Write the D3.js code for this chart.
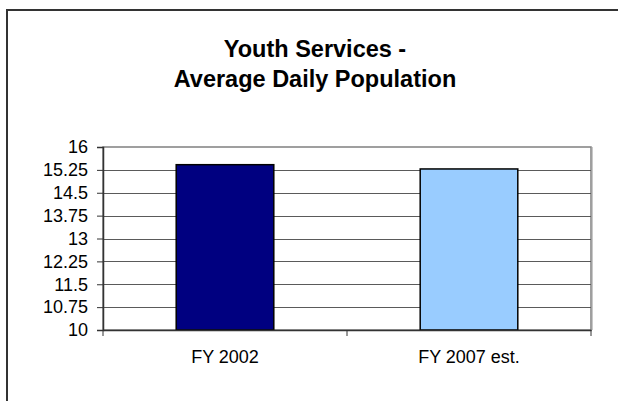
<!DOCTYPE html>
<html>
<head>
<meta charset="utf-8">
<script src="https://cdn.jsdelivr.net/npm/d3@7"></script>
<style>
  html, body { margin: 0; padding: 0; background: #fff; overflow: hidden; }
  svg { display: block; font-family: "Liberation Sans", Arial, sans-serif; }
</style>
</head>
<body>
<svg id="chart" width="618" height="401"></svg>
<script>
// Chart data
const titleLines = ["Youth Services -", "Average Daily Population"];
const categories = ["FY 2002", "FY 2007 est."];
const values = [15.42, 15.28];
const barColors = ["#000080", "#99CCFF"];
const yTickValues = [10, 10.75, 11.5, 12.25, 13, 13.75, 14.5, 15.25, 16];
const yTickLabels = ["10", "10.75", "11.5", "12.25", "13", "13.75", "14.5", "15.25", "16"];

const svg = d3.select("#chart");

// Outer chart frame: only the left and top edges fall inside the view
svg.append("path")
  .attr("d", "M7,401 V10 H618")
  .attr("fill", "none")
  .attr("stroke", "#333")
  .attr("stroke-width", 2);

// Title
svg.append("text")
  .attr("x", 315).attr("text-anchor", "middle")
  .attr("font-size", 23.5).attr("font-weight", "bold")
  .attr("fill", "#000")
  .selectAll("tspan")
  .data(titleLines)
  .join("tspan")
  .attr("x", 315)
  .attr("y", (d, i) => 57 + i * 30)
  .text(d => d);

// Plot area
const plot = { left: 103, right: 591, top: 147, bottom: 330 };

const x = d3.scaleBand()
  .domain(categories)
  .range([plot.left, plot.right])
  .paddingInner(0.6)
  .paddingOuter(0.3);

const y = d3.scaleLinear()
  .domain([10, 16])
  .range([plot.bottom, plot.top]);

// Light shadow on the right of the plot area
svg.append("line")
  .attr("x1", plot.right + 1.5).attr("x2", plot.right + 1.5)
  .attr("y1", plot.top).attr("y2", plot.bottom)
  .attr("stroke", "#c8c8c8").attr("stroke-width", 1);

// Plot area border
svg.append("rect")
  .attr("x", plot.left).attr("y", plot.top)
  .attr("width", plot.right - plot.left)
  .attr("height", plot.bottom - plot.top)
  .attr("fill", "none")
  .attr("stroke", "#808080")
  .attr("stroke-width", 1.5);

// Horizontal gridlines
const grid = svg.append("g")
  .attr("transform", `translate(${plot.left},0)`)
  .call(d3.axisLeft(y)
    .tickValues(yTickValues.slice(1, -1))
    .tickSize(-(plot.right - plot.left))
    .tickFormat(""));
grid.select(".domain").remove();
grid.selectAll(".tick line")
  .attr("stroke", "#5a5a5a")
  .attr("stroke-width", 1)
  .attr("shape-rendering", "crispEdges");

// Bars
svg.append("g")
  .selectAll("rect")
  .data(values)
  .join("rect")
  .attr("x", (d, i) => x(categories[i]))
  .attr("y", d => y(d))
  .attr("width", x.bandwidth())
  .attr("height", d => y(10) - y(d))
  .attr("fill", (d, i) => barColors[i])
  .attr("stroke", "#000")
  .attr("stroke-width", 1.5);

// Y axis
const yAxis = svg.append("g")
  .attr("transform", `translate(${plot.left},0)`)
  .call(d3.axisLeft(y)
    .tickValues(yTickValues)
    .tickSize(6)
    .tickPadding(9)
    .tickFormat((d, i) => yTickLabels[i]));
yAxis.select(".domain").attr("stroke", "#333").attr("stroke-width", 1.5);
yAxis.selectAll(".tick line").attr("stroke", "#333");
yAxis.selectAll(".tick text")
  .attr("font-size", 18)
  .attr("font-family", "Liberation Sans, Arial, sans-serif")
  .attr("fill", "#000");

// X axis: category labels
const xAxis = svg.append("g")
  .attr("transform", `translate(0,${plot.bottom})`)
  .call(d3.axisBottom(x).tickSize(0).tickPadding(20));
xAxis.select(".domain").attr("stroke", "#333").attr("stroke-width", 1.5);
xAxis.selectAll(".tick text")
  .attr("font-size", 18)
  .attr("font-family", "Liberation Sans, Arial, sans-serif")
  .attr("fill", "#000");

// X axis: tick marks between categories
const boundaries = d3.range(categories.length + 1).map(i => plot.left + i * x.step());
svg.append("g")
  .selectAll("line")
  .data(boundaries)
  .join("line")
  .attr("x1", d => d).attr("x2", d => d)
  .attr("y1", plot.bottom).attr("y2", plot.bottom + 6)
  .attr("stroke", "#333").attr("stroke-width", 1);
</script>
</body>
</html>
